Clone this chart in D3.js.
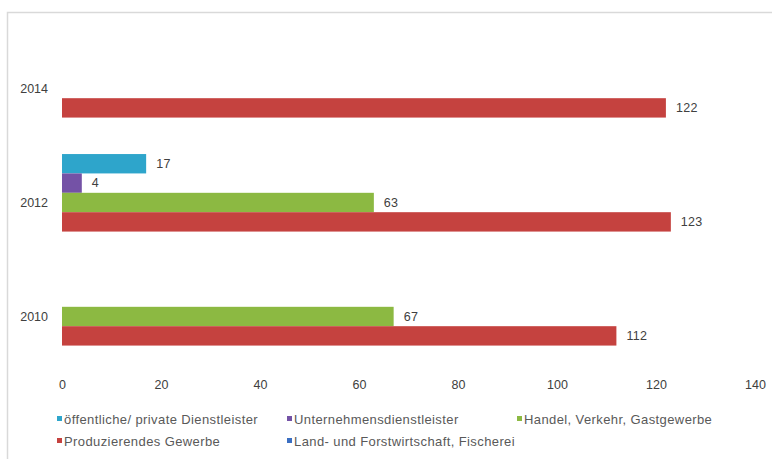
<!DOCTYPE html>
<html><head><meta charset="utf-8">
<script src="https://cdn.jsdelivr.net/npm/d3@7"></script>
<style>body{margin:0;background:#fff}svg{display:block;font-family:"Liberation Sans",Arial,sans-serif}</style>
</head><body><svg id="c" width="772" height="459"></svg>
<script>
const years = ["2014", "2012", "2010"];
const seriesNames = ["öffentliche/ private Dienstleister", "Unternehmensdienstleister", "Handel, Verkehr, Gastgewerbe", "Produzierendes Gewerbe", "Land- und Forstwirtschaft, Fischerei"];
const seriesColors = ["#2ea5cb", "#7452a6", "#8cb942", "#c5423f", "#3b6fc2"];
const dienstleister = [null, 17, null];
const unternehmens = [null, 4, null];
const handel = [null, 63, 67];
const produzierend = [122, 123, 112];
const landForst = [null, null, null];
const seriesValues = [dienstleister, unternehmens, handel, produzierend, landForst];
const xTicks = [0, 20, 40, 60, 80, 100, 120, 140];

const svg = d3.select("#c");
// frame
svg.append("path").attr("d","M7.5,470 V12.5 H780").attr("fill","none").attr("stroke","#d9d9d9").attr("stroke-width",1.5);

const x = d3.scaleLinear().domain([0,140]).range([62,755]);
const y0 = d3.scaleBand().domain(years).range([31.5,373.5]).paddingInner(0.15).paddingOuter(0.075);
const y1 = d3.scaleBand().domain(d3.range(5)).range([0,y0.bandwidth()]);

const g = svg.append("g");
years.forEach((yr, yi) => {
  seriesValues.forEach((vals, si) => {
    const v = vals[yi];
    if (v == null) return;
    const yy = y0(yr) + y1(si);
    g.append("rect").attr("x", x(0)).attr("y", yy).attr("width", x(v)-x(0)).attr("height", y1.bandwidth())
      .attr("fill", seriesColors[si]);
    g.append("text").attr("x", x(v)+10).attr("y", yy + y1.bandwidth()/2).attr("dy","0.35em")
      .attr("font-size",12.5).attr("letter-spacing",0.3).attr("fill","#404040").text(v);
  });
});

// category labels
const yAxis = d3.axisLeft(y0).tickSize(0).tickPadding(0);
const ya = svg.append("g").attr("transform","translate(48,0)").call(yAxis);
ya.select(".domain").remove();
ya.selectAll("text").attr("font-size",12.5).attr("fill","#404040").attr("font-family","Liberation Sans, Arial, sans-serif");

// x axis
const xAxis = d3.axisBottom(x).tickValues(xTicks).tickSize(0).tickPadding(0);
const xa = svg.append("g").attr("transform","translate(0,380)").call(xAxis);
xa.select(".domain").remove();
xa.selectAll("text").attr("font-size",12.5).attr("fill","#404040").attr("font-family","Liberation Sans, Arial, sans-serif");

// legend
const legPos = [[57,419],[287,419],[517,419],[57,441],[287,441]];
seriesNames.forEach((n,i) => {
  const [lx,ly] = legPos[i];
  svg.append("rect").attr("x",lx).attr("y",ly-3).attr("width",5).attr("height",5).attr("fill",seriesColors[i]);
  svg.append("text").attr("x",lx+7).attr("y",ly).attr("dy","0.35em").attr("font-size",13).attr("letter-spacing",0.4).attr("fill","#595959").text(n);
});
</script></body></html>
